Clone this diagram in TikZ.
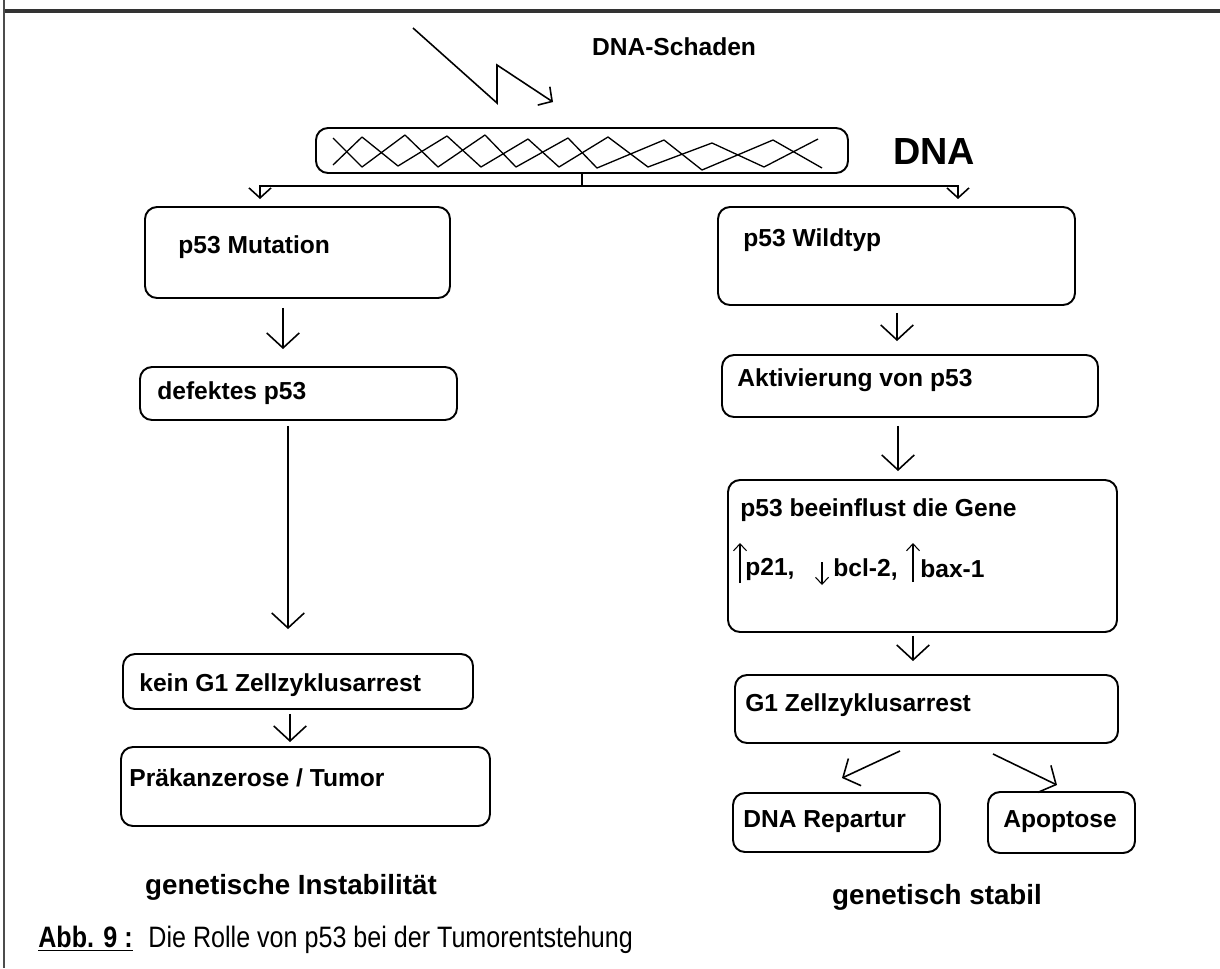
\documentclass[tikz,border=0pt]{standalone}
\usepackage{fontspec}
\setmainfont{Liberation Sans}
\newfontfamily\capfont{Liberation Sans}[FakeStretch=0.85]
\usetikzlibrary{arrows.meta,positioning,fit}

\tikzset{
  box/.style={draw, rounded corners=2.4mm, line width=1.1pt, inner sep=0pt},
  lbl/.style={anchor=west, inner sep=0pt, font=\fontsize{14}{16}\selectfont\bfseries},
  big/.style={anchor=center, inner sep=0pt, font=\fontsize{15.8}{18}\selectfont\bfseries},
  arr/.style={-{Straight Barb[length=3mm,width=6.5mm]}, line width=0.9pt},
  sarr/.style={-{Straight Barb[length=2mm,width=4.4mm]}, line width=0.9pt},
  darr/.style={-{Straight Barb[length=2.6mm,width=6mm]}, line width=0.9pt},
  tarr/.style={-{Straight Barb[length=1.4mm,width=2.6mm]}, line width=0.6pt},
  helix/.style={line width=0.75pt, line join=round}
}

\begin{document}
\begin{tikzpicture}[x=0.02cm, y=-0.02cm]
\useasboundingbox (0,0) rectangle (1220,968);

% frame
\fill[black!80] (4,9) rectangle (1220,13);
\draw[black!70, line width=1.2pt] (4,0) -- (4,968);

% DNA strand
\node[box, fit={(316,128) (848,173)}] (dna) {};
\draw[helix] (333,138) -- (362,167) -- (405,135) -- (438,167) -- (485,135) -- (516,167)
  -- (568,138) -- (597,168) -- (664,140) -- (702,170) -- (773,140) -- (822,168);
\draw[helix] (333,165) -- (362,137) -- (398,166) -- (447,136) -- (481,167) -- (528,139)
  -- (559,167) -- (608,137) -- (648,167) -- (712,143) -- (764,167) -- (818,139);
\node[anchor=west, inner sep=0pt, font=\fontsize{21.5}{24}\selectfont\bfseries] (dnalbl) at (893,151) {DNA};

% damage
\node[lbl, anchor=center] (schaden) at (674,47) {DNA-Schaden};
\coordinate (hit) at (413,28);
\draw[sarr] (hit) -- (497,103) -- (497,65) -- (553,102);

% boxes
\node[box, fit={(145,207) (450,298)}] (mut) {};
\node[box, fit={(140,367) (457,420)}] (def) {};
\node[box, fit={(123,654) (473,709)}] (kein) {};
\node[box, fit={(121,747) (490,826)}] (tum) {};
\node[box, fit={(718,207) (1075,305)}] (wild) {};
\node[box, fit={(722,355) (1098,417)}] (akt) {};
\node[box, fit={(728,480) (1117,632)}] (gene) {};
\node[box, fit={(735,675) (1118,743)}] (gone) {};
\node[box, fit={(733,793) (940,852)}] (rep) {};
\node[box, fit={(988,792) (1135,853)}] (apo) {};

% box texts
\node[lbl] (tmut) at (178,247) {p53 Mutation};
\node[lbl] (tdef) at (157,393) {defektes p53};
\node[lbl] (tkein) at (139,685) {kein G1 Zellzyklusarrest};
\node[lbl] (ttum) at (129,778) {Präkanzerose / Tumor};
\node[lbl] (twild) at (743,240) {p53 Wildtyp};
\node[lbl] (takt) at (737,380) {Aktivierung von p53};
\node[lbl] (tgene) at (740,510) {p53 beeinflust die Gene};
\node[lbl] (tp21) at (745,569) {p21,};
\node[lbl] (tbcl) at (833,569) {bcl-2,};
\node[lbl] (tbax) at (920,569) {bax-1};
\node[lbl] (tgone) at (745,705) {G1 Zellzyklusarrest};
\node[lbl] (trep) at (743,822) {DNA Repartur};
\node[lbl] (tapo) at (1003,822) {Apoptose};

% up / down marks
\draw[tarr] (740,583) -- (740,543);
\draw[tarr] (822,562) -- (822,585);
\draw[tarr] (913,582) -- (913,543);

% fork from DNA
\coordinate (fork) at (582,186);
\coordinate (lend) at (260,199);
\coordinate (rend) at (958,199);
\draw[line width=0.9pt] (dna.south) -- (fork);
\draw[sarr] (fork) -| (lend);
\draw[sarr] (fork) -| (rend);

% arrow columns
\coordinate (c1) at (283,0);
\coordinate (c2) at (288,0);
\coordinate (c3) at (290,0);
\coordinate (c4) at (897,0);
\coordinate (c5) at (898,0);
\coordinate (c6) at (913,0);
\draw[arr, shorten <=0.18cm, shorten >=0.34cm] (mut.south -| c1) -- (def.north -| c1);
\draw[arr, shorten <=0.10cm, shorten >=0.48cm] (def.south -| c2) -- (kein.north -| c2);
\draw[arr, shorten <=0.08cm, shorten >=0.08cm] (kein.south -| c3) -- (tum.north -| c3);
\draw[arr, shorten <=0.14cm, shorten >=0.26cm] (wild.south -| c4) -- (akt.north -| c4);
\draw[arr, shorten <=0.16cm, shorten >=0.16cm] (akt.south -| c5) -- (gene.north -| c5);
\draw[arr, shorten <=0.06cm, shorten >=0.26cm] (gene.south -| c6) -- (gone.north -| c6);

% split after arrest
\coordinate (repin) at (842,778);
\coordinate (apoin) at (1057,785);
\draw[darr] ([xshift=-0.53cm,yshift=-0.14cm]gone.south) -- (repin);
\draw[darr] ([xshift=1.33cm,yshift=-0.2cm]gone.south) -- (apoin);

% outcomes
\node[big] (instab) at (291,887) {genetische Instabilität};
\node[big] (stabil) at (937,897) {genetisch stabil};

% caption
\node[anchor=west, inner sep=0pt, font=\capfont\fontsize{16.8}{19}\selectfont] (cap) at (38,940)
  {\underline{\textbf{Abb. 9 :}}\hspace{0.3em} Die Rolle von p53 bei der Tumorentstehung};
\end{tikzpicture}
\end{document}
